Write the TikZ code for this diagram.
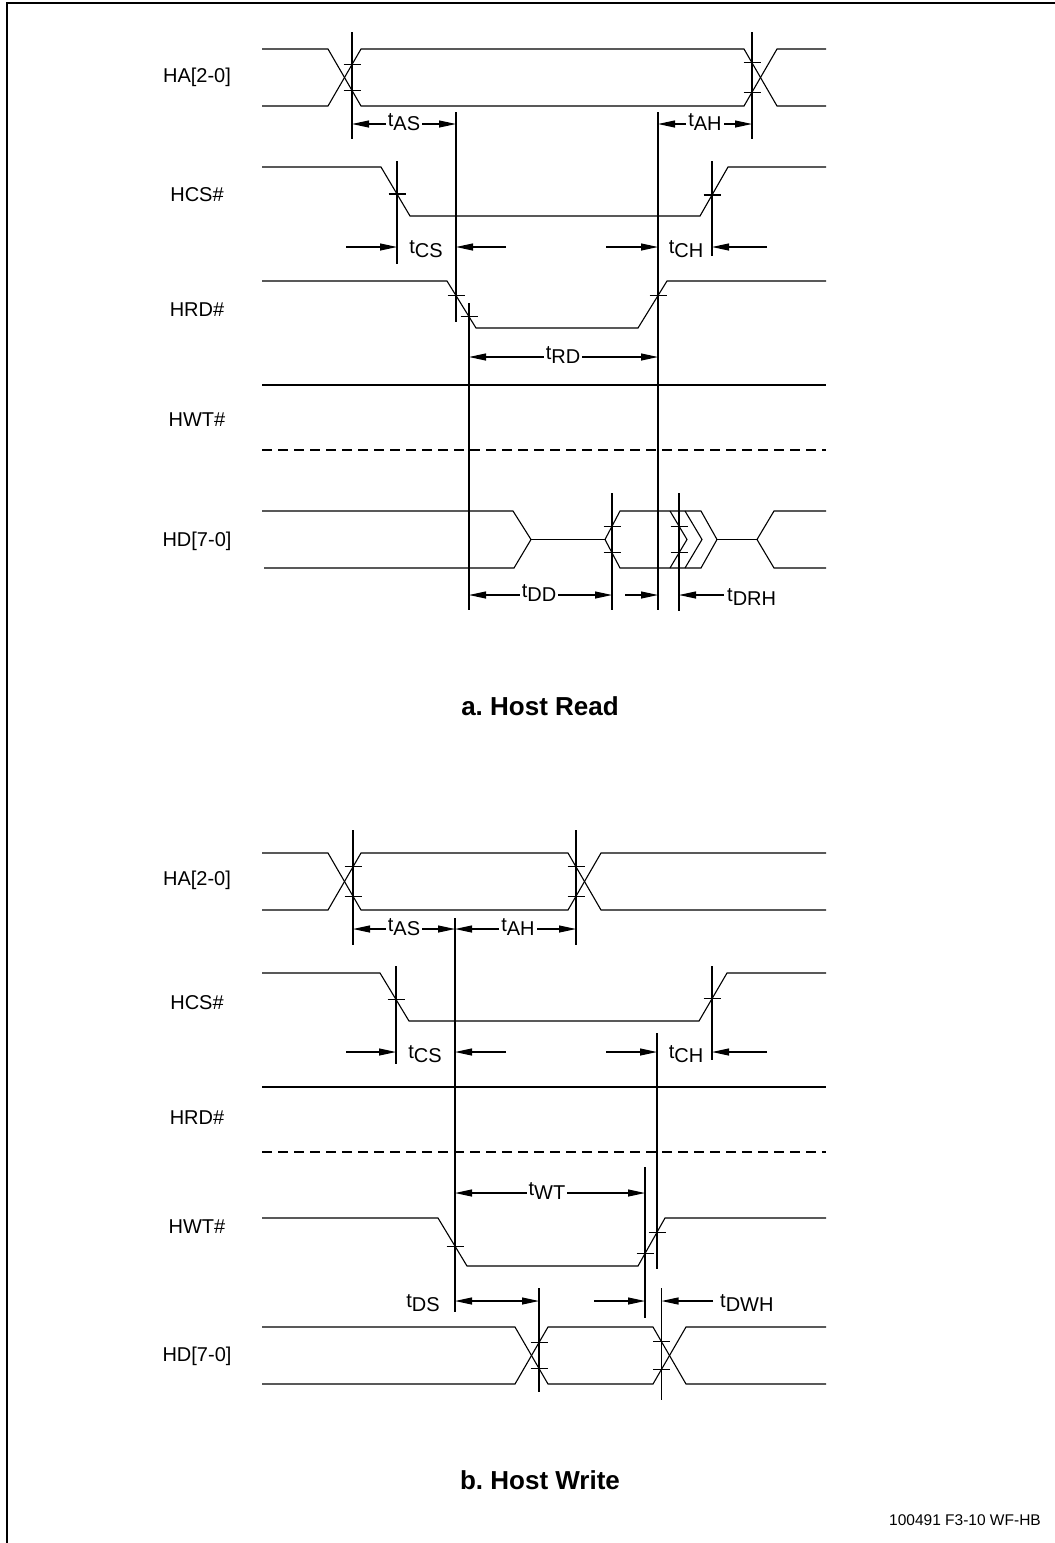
\documentclass[tikz,border=0pt]{standalone}
\usepackage{fontspec}
\setmainfont{Liberation Sans}
\usetikzlibrary{arrows.meta,calc}
\frenchspacing
\newcommand\tm[1]{t\raisebox{-4pt}{#1}}
\newcommand\tk[5]{\pgfmathsetmacro\tky{#3+(#1-#2)*(#5-#3)/(#4-#2)}\draw[wave] (#1-8.5,\tky) -- (#1+8.5,\tky);}
\tikzset{
  wave/.style={line width=1.1pt, line join=miter},
  guide/.style={line width=1.1pt},
  dashwave/.style={line width=1.1pt, dash pattern=on 10pt off 6pt},
  dim/.style={line width=1.1pt, -{Triangle[length=17pt,width=7pt]}},
  dimboth/.style={line width=1.1pt, {Triangle[length=17pt,width=7pt]}-{Triangle[length=17pt,width=7pt]}},
  sig/.style={font=\fontsize{20}{24}\selectfont, inner sep=0pt},
  tlab/.style={font=\fontsize{20}{24}\selectfont, inner sep=2pt, fill=white},
  tlabn/.style={font=\fontsize{20}{24}\selectfont, inner sep=0pt},
  ttl/.style={font=\fontsize{26}{31}\selectfont\bfseries, inner sep=0pt},
}
\begin{document}
\begin{tikzpicture}[x=1pt,y=-1pt]
\useasboundingbox (0,0) rectangle (1055,1543);
% frame
\draw[line width=2.8pt] (7,1550) -- (7,3) -- (1060,3);

% ================= HOST READ =================
\node[sig] (rHA)  at (197,77)  {HA[2-0]};
\node[sig] (rHCS) at (197,195) {HCS\#};
\node[sig] (rHRD) at (197,310) {HRD\#};
\node[sig] (rHWT) at (197,420) {HWT\#};
\node[sig] (rHD)  at (197,541) {HD[7-0]};

% vertical reference x positions
\coordinate (rV1) at (352,0);
\coordinate (rVAH) at (752,0);
\coordinate (rV2) at (456,0);
\coordinate (rV3) at (469,0);
\coordinate (rV4) at (658,0);
\coordinate (rV5) at (397,0);
\coordinate (rV6) at (712,0);
\coordinate (rV7) at (612,0);
\coordinate (rV8) at (679,0);

% HA
\draw[wave] (262,49) -- (328,49) -- (361,106) -- (744,106) -- (777,49) -- (826,49);
\draw[wave] (262,106) -- (328,106) -- (361,49) -- (744,49) -- (777,106) -- (826,106);
\tk{352}{328}{49}{361}{106}
\tk{352}{328}{106}{361}{49}
\tk{752}{744}{106}{777}{49}
\tk{752}{744}{49}{777}{106}
% HCS
\draw[wave] (262,167) -- (381,167) -- (410,216) -- (700,216) -- (728,167) -- (826,167);
\tk{397}{381}{167}{410}{216}
\tk{712}{700}{216}{728}{167}
% HRD
\draw[wave] (262,281) -- (447,281) -- (476,328) -- (638,328) -- (667,281) -- (826,281);
\tk{456}{447}{281}{476}{328}
\tk{469}{447}{281}{476}{328}
\tk{658}{638}{328}{667}{281}
% HWT
\draw[wave] (262,385) -- (826,385);
\draw[dashwave] (262,450) -- (826,450);
% HD
\draw[wave] (262,511) -- (513,511) -- (531,539.5) -- (514,568) -- (264,568);
\draw[wave] (531,539.5) -- (605,539.5);
\draw[wave] (605,539.5) -- (620,511) -- (701,511) -- (717,539.5) -- (701,568) -- (620,568) -- cycle;
\draw[wave] (670,511) -- (687,539.5) -- (670,568);
\draw[wave] (685,511) -- (702,539.5) -- (685,568);
\draw[wave] (717,539.5) -- (757,539.5);
\draw[wave] (826,511) -- (774,511) -- (757,539.5) -- (774,568) -- (826,568);
\tk{612}{605}{539.5}{620}{511}
\tk{612}{605}{539.5}{620}{568}
\tk{679}{670}{511}{687}{539.5}
\tk{679}{670}{568}{687}{539.5}

% guides
\draw[guide] (352,32) -- (352,139);
\draw[guide] (752,32) -- (752,139);
\draw[guide] (456,112) -- (456,322);
\draw[guide] (658,112) -- (658,610);
\draw[guide] (397,161) -- (397,264);
\draw[guide] (712,161) -- (712,256);
\draw[guide] (469,303) -- (469,610);
\draw[guide] (612,493) -- (612,610);
\draw[guide] (679,493) -- (679,611);

% timing arrows
\coordinate (rAS) at (404,124);
\draw[dimboth] (rAS -| rV1) -- (rAS -| rV2);
\node[tlab] (rtAS) at (404,122.5) {\tm{AS}};
\coordinate (rAH) at (705,124);
\draw[dimboth] (rAH -| rV4) -- (rAH -| rVAH);
\node[tlab] (rtAH) at (705,122.5) {\tm{AH}};

\coordinate (rCSa) at (346,247);
\coordinate (rCSb) at (506,247);
\draw[dim] (rCSa) -- (rCSa -| rV5);
\draw[dim] (rCSb) -- (rCSb -| rV2);
\node[tlabn] (rtCS) at (426,249.5) {\tm{CS}};
\coordinate (rCHa) at (606,247);
\coordinate (rCHb) at (767,247);
\draw[dim] (rCHa) -- (rCHa -| rV4);
\draw[dim] (rCHb) -- (rCHb -| rV6);
\node[tlabn] (rtCH) at (686,249.5) {\tm{CH}};

\coordinate (rRD) at (563,357);
\draw[dimboth] (rRD -| rV3) -- (rRD -| rV4);
\node[tlab] (rtRD) at (563,355.5) {\tm{RD}};

\coordinate (rDD) at (539,595);
\draw[dimboth] (rDD -| rV3) -- (rDD -| rV7);
\node[tlab] (rtDD) at (539,593.5) {\tm{DD}};
\coordinate (rDXa) at (625,595);
\draw[dim] (rDXa) -- (rDXa -| rV4);
\coordinate (rDRa) at (724,595);
\draw[dim] (rDRa) -- (rDRa -| rV8);
\node[tlabn, anchor=west] (rtDRH) at (727,597.5) {\tm{DRH}};

\node[ttl] (rtitle) at (540,706) {a. Host Read};

% ================= HOST WRITE =================
\node[sig] (wHA)  at (197,880)  {HA[2-0]};
\node[sig] (wHCS) at (197,1003) {HCS\#};
\node[sig] (wHRD) at (197,1118) {HRD\#};
\node[sig] (wHWT) at (197,1227) {HWT\#};
\node[sig] (wHD)  at (197,1356) {HD[7-0]};

\coordinate (wV1) at (353,0);
\coordinate (wVAH) at (576,0);
\coordinate (wV2) at (455,0);
\coordinate (wV5) at (396,0);
\coordinate (wV6) at (712,0);
\coordinate (wV4) at (657,0);
\coordinate (wV9) at (645,0);
\coordinate (wV10) at (661.5,0);
\coordinate (wV11) at (539,0);

% HA
\draw[wave] (262,853) -- (328,853) -- (361,910) -- (568,910) -- (601,853) -- (826,853);
\draw[wave] (262,910) -- (328,910) -- (361,853) -- (568,853) -- (601,910) -- (826,910);
\tk{353}{328}{853}{361}{910}
\tk{353}{328}{910}{361}{853}
\tk{576}{568}{853}{601}{910}
\tk{576}{568}{910}{601}{853}
% HCS
\draw[wave] (262,973) -- (380,973) -- (409,1021) -- (699,1021) -- (727,973) -- (826,973);
\tk{396}{380}{973}{409}{1021}
\tk{712}{699}{1021}{727}{973}
% HRD
\draw[wave] (262,1087) -- (826,1087);
\draw[dashwave] (262,1152) -- (826,1152);
% HWT
\draw[wave] (262,1218) -- (438,1218) -- (467,1266) -- (638,1266) -- (665,1218) -- (826,1218);
\tk{455}{438}{1218}{467}{1266}
\tk{645}{638}{1266}{665}{1218}
\tk{657}{638}{1266}{665}{1218}
% HD
\draw[wave] (262,1327) -- (515,1327) -- (548,1384) -- (653,1384) -- (686,1327) -- (826,1327);
\draw[wave] (262,1384) -- (515,1384) -- (548,1327) -- (653,1327) -- (686,1384) -- (826,1384);
\tk{539}{515}{1327}{548}{1384}
\tk{539}{515}{1384}{548}{1327}
\tk{661.5}{653}{1384}{686}{1327}
\tk{661.5}{653}{1327}{686}{1384}

% guides
\draw[guide] (353,830) -- (353,945);
\draw[guide] (576,830) -- (576,945);
\draw[guide] (455,918) -- (455,1312);
\draw[guide] (396,966) -- (396,1064);
\draw[guide] (712,966) -- (712,1060);
\draw[guide] (657,1033) -- (657,1269);
\draw[guide] (645,1167) -- (645,1318);
\draw[guide] (661.5,1288) -- (661.5,1400);
\draw[guide] (539,1288) -- (539,1392);

% timing arrows
\coordinate (wAS) at (404,929);
\draw[dimboth] (wAS -| wV1) -- (wAS -| wV2);
\node[tlab] (wtAS) at (404,927.5) {\tm{AS}};
\coordinate (wAH) at (518,929);
\draw[dimboth] (wAH -| wV2) -- (wAH -| wVAH);
\node[tlab] (wtAH) at (518,927.5) {\tm{AH}};

\coordinate (wCSa) at (346,1052);
\coordinate (wCSb) at (506,1052);
\draw[dim] (wCSa) -- (wCSa -| wV5);
\draw[dim] (wCSb) -- (wCSb -| wV2);
\node[tlabn] (wtCS) at (425,1054.5) {\tm{CS}};
\coordinate (wCHa) at (606,1052);
\coordinate (wCHb) at (767,1052);
\draw[dim] (wCHa) -- (wCHa -| wV4);
\draw[dim] (wCHb) -- (wCHb -| wV6);
\node[tlabn] (wtCH) at (686,1054.5) {\tm{CH}};

\coordinate (wWT) at (547,1193);
\draw[dimboth] (wWT -| wV2) -- (wWT -| wV9);
\node[tlab] (wtWT) at (547,1191.5) {\tm{WT}};

\coordinate (wDS) at (497,1301);
\draw[dimboth] (wDS -| wV2) -- (wDS -| wV11);
\node[tlabn] (wtDS) at (423,1303.5) {\tm{DS}};
\coordinate (wDWa) at (594,1301);
\draw[dim] (wDWa) -- (wDWa -| wV9);
\coordinate (wDWb) at (713,1301);
\draw[dim] (wDWb) -- (wDWb -| wV10);
\node[tlabn, anchor=west] (wtDWH) at (720,1303.5) {\tm{DWH}};

\node[ttl] (wtitle) at (540,1480) {b. Host Write};
\node[anchor=east, inner sep=0pt, font=\fontsize{15.5}{18}\selectfont] (foot) at (1041,1520) {100491 F3-10 WF-HB};
\end{tikzpicture}
\end{document}
